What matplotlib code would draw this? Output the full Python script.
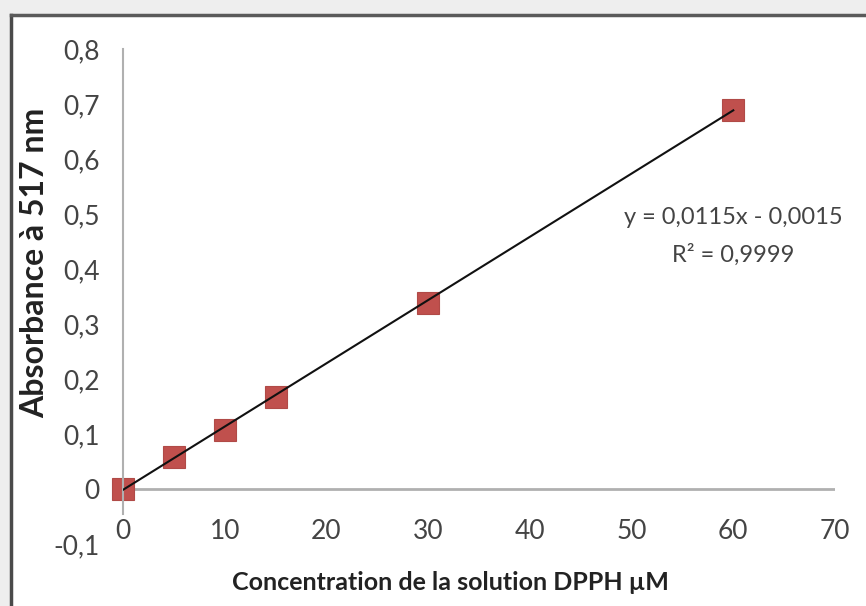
import matplotlib
matplotlib.use("Agg")
import matplotlib.pyplot as plt
from matplotlib.patches import Rectangle
from matplotlib.lines import Line2D
import numpy as np

# Data
concentration = [0, 5, 10, 15, 30, 60]
absorbance = [0.0, 0.058, 0.108, 0.167, 0.338, 0.689]
slope = 0.0115
intercept = -0.0015
x_ticks = [0, 10, 20, 30, 40, 50, 60, 70]
y_ticks = [-0.1, 0, 0.1, 0.2, 0.3, 0.4, 0.5, 0.6, 0.7, 0.8]
y_tick_labels = ["-0,1", "0", "0,1", "0,2", "0,3", "0,4", "0,5", "0,6", "0,7", "0,8"]
equation_text = "y = 0,0115x - 0,0015"
r2_text = "R² = 0,9999"
x_label = "Concentration de la solution DPPH µM"
y_label = "Absorbance à 517 nm"

W, H = 866, 606
fig = plt.figure(figsize=(W / 100, H / 100), dpi=100, facecolor="#eeeeee")
plt.rcParams['font.family'] = ['Lato', 'DejaVu Sans']

# white chart area with dark frame on left / top
fig.patches.append(Rectangle((11 / W, 0), 1 - 11 / W, 1 - 15 / H, transform=fig.transFigure,
                             facecolor="white", edgecolor="none", zorder=-10))
fig.lines.append(Line2D([11 / W, 11 / W], [0, 1 - 15 / H], transform=fig.transFigure,
                        color="#4a4a4a", lw=2.5, zorder=-5))
fig.lines.append(Line2D([11 / W, 1], [1 - 15 / H, 1 - 15 / H], transform=fig.transFigure,
                        color="#5a5a5a", lw=2.5, zorder=-5))

# axes: x 0->123px, 70->835px ; y 0.8->49px, -0.1->544px
left, right = 123, 835
top, bottom = 49, 544
ax = fig.add_axes([left / W, 1 - bottom / H, (right - left) / W, (bottom - top) / H])
ax.set_zorder(5)
ax.set_facecolor("none")
ax.set_xlim(0, 70)
ax.set_ylim(-0.1, 0.8)

for s in ["top", "right"]:
    ax.spines[s].set_visible(False)
ax.spines["left"].set_position(("data", 0))
ax.spines["left"].set_bounds(-0.045, 0.8)
ax.spines["left"].set_color("#b0b0b0")
ax.spines["left"].set_linewidth(1.5)
ax.spines["bottom"].set_position(("data", -0.05))
ax.spines["bottom"].set_visible(False)
ax.axhline(0, xmin=0, xmax=1, color="#b0b0b0", lw=2, zorder=1)

ax.set_xticks(x_ticks)
ax.set_xticklabels([str(v) for v in x_ticks])
ax.set_yticks(y_ticks)
ax.set_yticklabels(y_tick_labels)
ax.tick_params(axis="x", length=0, pad=2, labelsize=19, labelcolor="#444444")
ax.tick_params(axis="y", length=0, pad=17, labelsize=19, labelcolor="#444444")

# trendline
xl = np.array([0, max(concentration)])
ax.plot(xl, slope * xl + intercept, color="#111111", lw=1.5, zorder=3)
ax.plot(concentration, absorbance, linestyle="none", marker="s", markersize=16,
        markerfacecolor="#c0504d", markeredgecolor="#b04a47", markeredgewidth=0.8,
        zorder=2, clip_on=False)

ax.text(60, 0.494, equation_text, ha="center", va="center", fontsize=17, color="#444444")
ax.text(60, 0.426, r2_text, ha="center", va="center", fontsize=17, color="#444444")

fig.text(450 / W, 1 - 582 / H, x_label, ha="center", va="center", fontsize=18,
         fontweight="bold", color="#222222")
fig.text(35 / W, 1 - 263 / H, y_label, ha="center", va="center", rotation=90,
         fontsize=23, fontweight="bold", color="#222222")

fig.savefig("out.png", dpi=100, facecolor=fig.get_facecolor())
